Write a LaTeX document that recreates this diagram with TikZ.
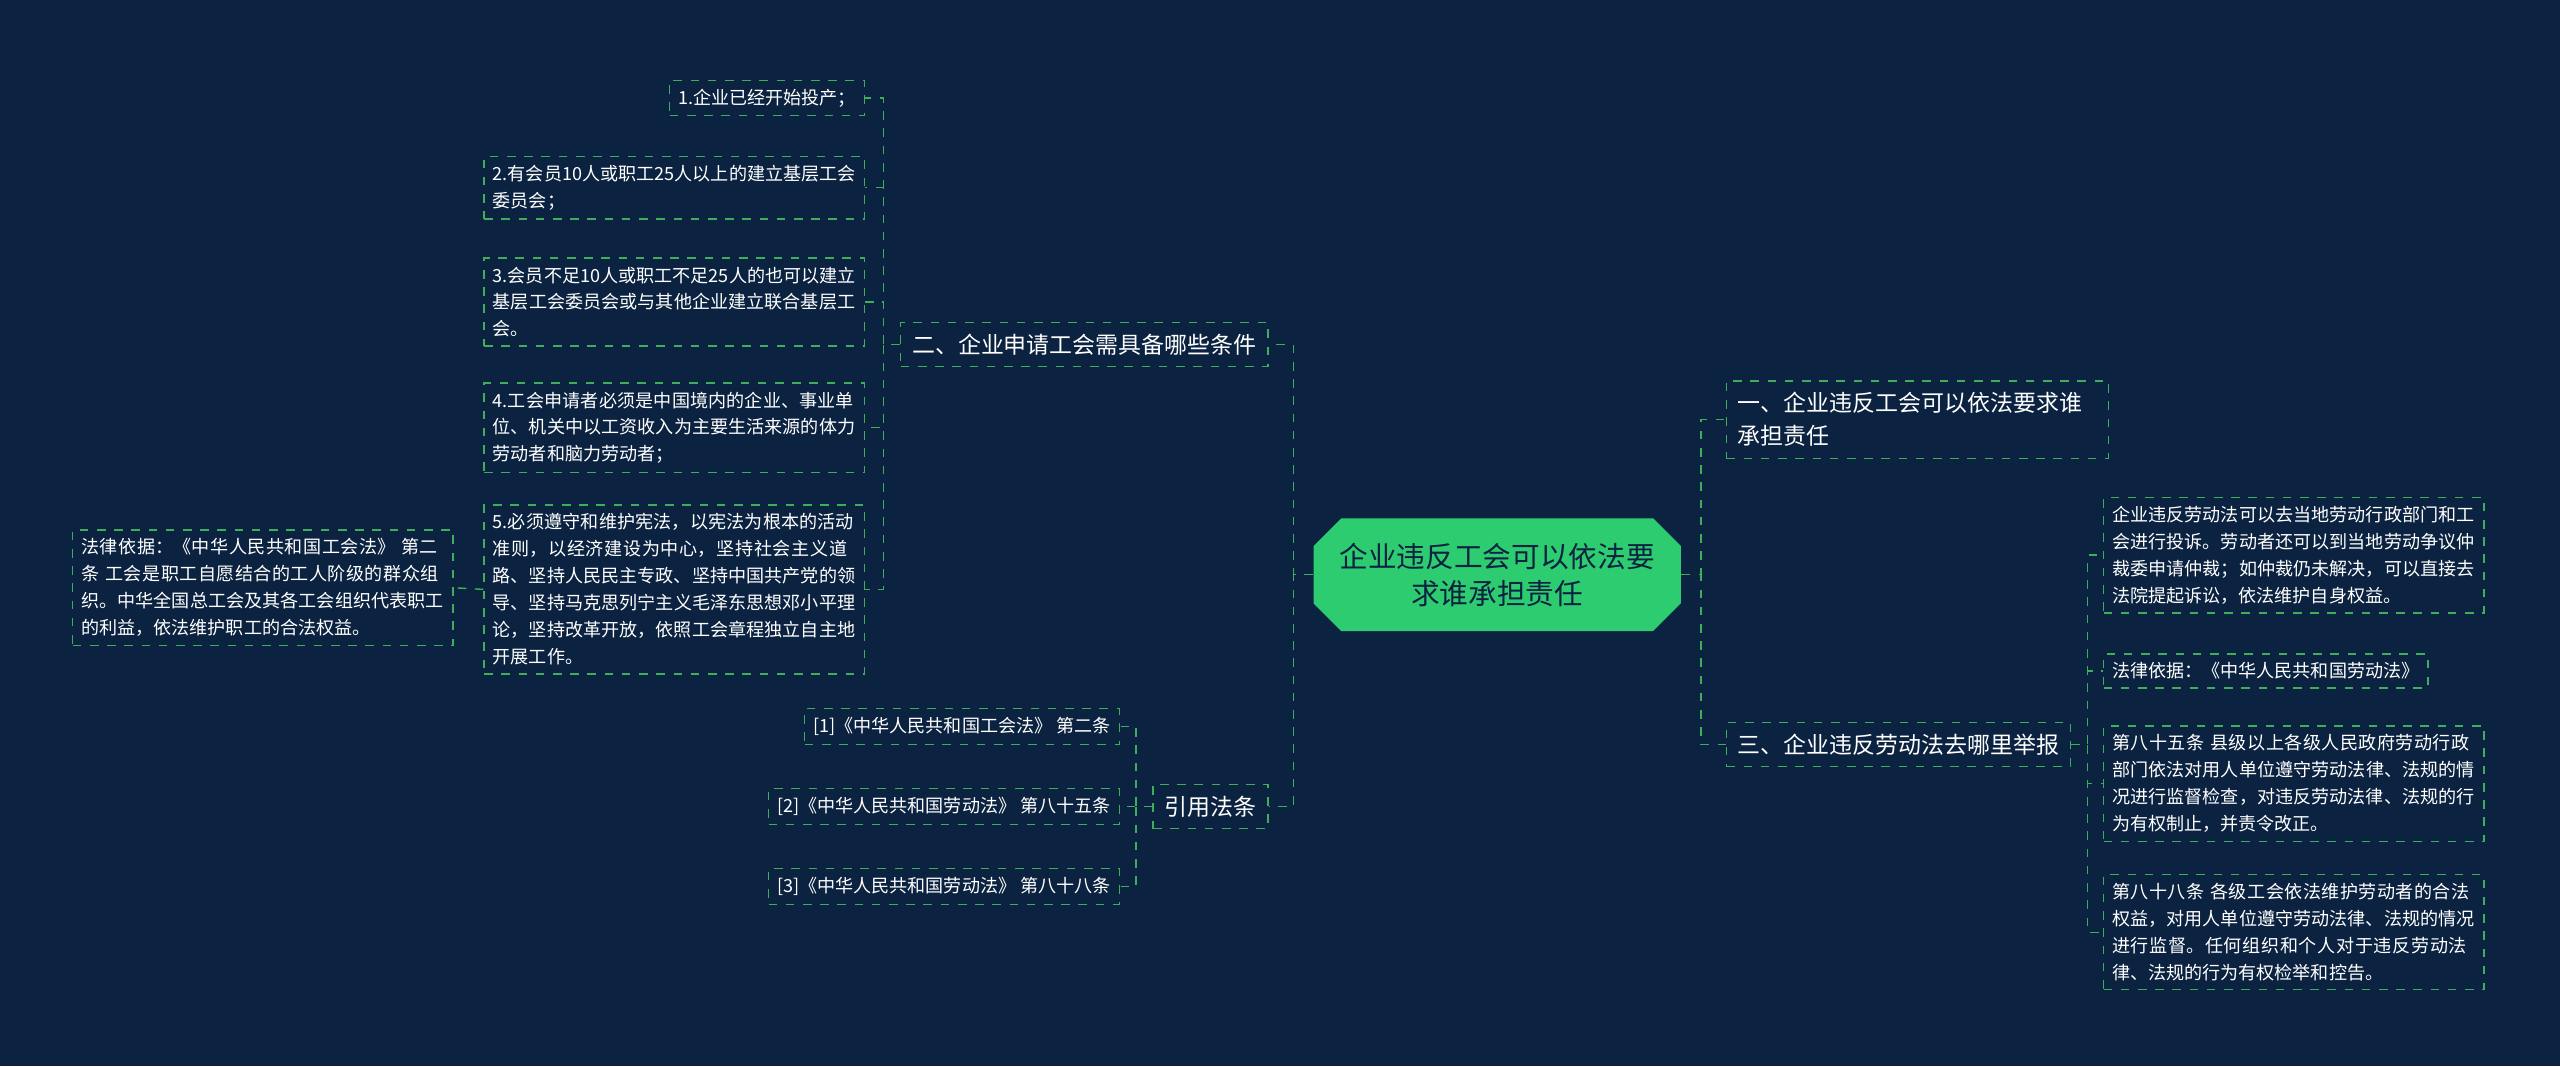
\documentclass[tikz,border=0pt]{standalone}
\usepackage{fontspec}
\setmainfont{Noto Sans CJK SC}
\XeTeXlinebreaklocale "zh"
\XeTeXlinebreakskip=0pt plus 1pt
\usetikzlibrary{shapes.misc, positioning}
\definecolor{bg}{HTML}{0B2340}
\definecolor{lk}{HTML}{3FAE5A}
\definecolor{ctr}{HTML}{2ECC71}
\tikzstyle{link} = [draw=lk, dashed, line width=0.5pt]
\tikzstyle{leaf} = [rectangle, draw=lk, dashed, line width=0.5pt, text=white, font=\fontsize{6.3}{9.4}\selectfont, align=left, inner sep=3pt]
\tikzstyle{branch} = [rectangle, draw=lk, dashed, line width=0.5pt, text=white, font=\fontsize{8}{11.5}\selectfont, align=left, inner sep=4pt]
\tikzset{
	root/.style = {chamfered rectangle, chamfered rectangle xsep=6pt, fill=ctr, text=bg,
		font=\fontsize{10}{13}\selectfont, align=center, minimum width=4.3cm, minimum height=1.38cm, inner sep=3pt}
}
\begin{document}
\begin{tikzpicture}[x=0.02cm, y=-0.02cm]
\useasboundingbox[fill=bg] (0,0) rectangle (1568,653);
% Placement of nodes
\node (root) [root] at (917,352) {企业违反工会可以依法要\\求谁承担责任};
\node (cond) [branch, anchor=east] at (777,211) {二、企业申请工会需具备哪些条件};
\node (cite) [branch, anchor=east] at (777,494) {引用法条};
\node (who) [branch, anchor=west, text width=4.4cm] at (1057,257) {一、企业违反工会可以依法要求谁\\承担责任};
\node (where) [branch, anchor=west] at (1057,456) {三、企业违反劳动法去哪里举报};

%Condition leaves
\node (c1) [leaf, anchor=east] at (530,60) {1.企业已经开始投产；};
\node (c2) [leaf, anchor=east, text width=4.45cm] at (530,115) {2.有会员10人或职工25人以上的建立基层工会委员会；};
\node (c3) [leaf, anchor=east, text width=4.45cm] at (530,185) {3.会员不足10人或职工不足25人的也可以建立基层工会委员会或与其他企业建立联合基层工会。};
\node (c4) [leaf, anchor=east, text width=4.45cm] at (530,262) {4.工会申请者必须是中国境内的企业、事业单位、机关中以工资收入为主要生活来源的体力劳动者和脑力劳动者；};
\node (c5) [leaf, anchor=east, text width=4.45cm] at (530,361) {5.必须遵守和维护宪法，以宪法为根本的活动准则，以经济建设为中心，坚持社会主义道路、坚持人民民主专政、坚持中国共产党的领导、坚持马克思列宁主义毛泽东思想邓小平理论，坚持改革开放，依照工会章程独立自主地开展工作。};
\node (law) [leaf, anchor=east, text width=4.45cm] at (278,360) {法律依据：《中华人民共和国工会法》 第二条 工会是职工自愿结合的工人阶级的群众组织。中华全国总工会及其各工会组织代表职工的利益，依法维护职工的合法权益。};

%Citation leaves
\node (r1) [leaf, anchor=east] at (686,445) {[1]《中华人民共和国工会法》 第二条};
\node (r2) [leaf, anchor=east] at (686,494) {[2]《中华人民共和国劳动法》 第八十五条};
\node (r3) [leaf, anchor=east] at (686,543) {[3]《中华人民共和国劳动法》 第八十八条};

%Report leaves
\node (w1) [leaf, anchor=west, text width=4.45cm] at (1288,340) {企业违反劳动法可以去当地劳动行政部门和工会进行投诉。劳动者还可以到当地劳动争议仲裁委申请仲裁；如仲裁仍未解决，可以直接去法院提起诉讼，依法维护自身权益。};
\node (w2) [leaf, anchor=west] at (1288,411) {法律依据：《中华人民共和国劳动法》};
\node (w3) [leaf, anchor=west, text width=4.45cm] at (1288,480) {第八十五条 县级以上各级人民政府劳动行政部门依法对用人单位遵守劳动法律、法规的情况进行监督检查，对违反劳动法律、法规的行为有权制止，并责令改正。};
\node (w4) [leaf, anchor=west, text width=4.45cm] at (1288,571) {第八十八条 各级工会依法维护劳动者的合法权益，对用人单位遵守劳动法律、法规的情况进行监督。任何组织和个人对于违反劳动法律、法规的行为有权检举和控告。};

% Placement of edges
\draw [link] (root.west) -- ++(-12,0) |- (cond.east);
\draw [link] (root.west) -- ++(-12,0) |- (cite.east);
\draw [link] (root.east) -- ++(12,0) |- (who.west);
\draw [link] (root.east) -- ++(12,0) |- (where.west);
\foreach \c in {c1,c2,c3,c4,c5}
	\draw [link] (cond.west) -- ++(-10,0) |- (\c.east);
\draw [link] (c5.west) -- (law.east);
\foreach \r in {r1,r2,r3}
	\draw [link] (cite.west) -- ++(-10,0) |- (\r.east);
\foreach \w in {w1,w2,w3,w4}
	\draw [link] (where.east) -- ++(10,0) |- (\w.west);
\end{tikzpicture}
\end{document}
